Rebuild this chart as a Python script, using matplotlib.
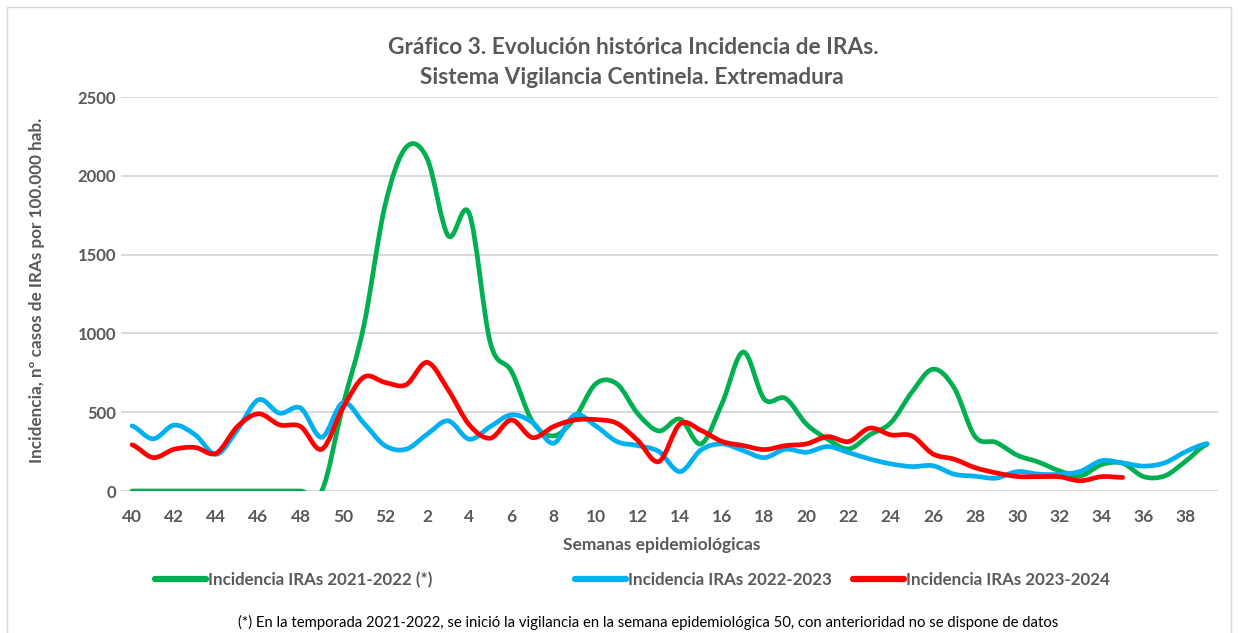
import matplotlib
matplotlib.use('Agg')
import matplotlib.pyplot as plt
from matplotlib.path import Path
from matplotlib.patches import PathPatch, Rectangle
from matplotlib.lines import Line2D

# semanas epidemiologicas (temporada: semana 40 a semana 39)
semanas = list(range(40, 53)) + list(range(1, 40))

# incidencia por 100.000 hab.
ira_2021_2022 = [0, 0, 0, 0, 0, 0, 0, 0, 0, 0,
                 540, 1050, 1810, 2180, 2110, 1620, 1760, 940, 760, 440,
                 350, 462, 680, 680, 490, 381, 456, 299, 558, 882,
                 582, 588, 424, 329, 267, 356, 433, 627, 773, 656,
                 345, 308, 227, 184, 128, 96, 168, 176, 91, 96,
                 190, 296]
ira_2022_2023 = [413, 331, 418, 356, 233, 388, 579, 494, 526, 341,
                 560, 430, 288, 265, 360, 445, 329, 409, 483, 435,
                 303, 483, 413, 314, 288, 250, 123, 261, 299, 256,
                 212, 265, 246, 282, 244, 203, 172, 155, 160, 107,
                 94, 82, 123, 107, 106, 125, 192, 178, 158, 179,
                 250, 301]
ira_2023_2024 = [293, 212, 265, 276, 240, 409, 490, 420, 409, 265,
                 526, 723, 689, 674, 816, 642, 420, 335, 451, 339,
                 409, 451, 453, 430, 320, 187, 426, 384, 314, 288,
                 263, 288, 299, 345, 314, 399, 356, 350, 235, 202,
                 148, 115, 92, 91, 90, 65, 91, 86]

series = [
    (ira_2021_2022, '#00B050', 'Incidencia IRAs 2021-2022 (*)'),
    (ira_2022_2023, '#00B0F0', 'Incidencia IRAs 2022-2023'),
    (ira_2023_2024, '#FF0000', 'Incidencia IRAs 2023-2024'),
]
# posicion (px) del inicio de cada entrada de la leyenda
legend_x = [155, 575, 853]

GRAY = '#595959'
plt.rcParams['font.family'] = ['Lato', 'DejaVu Sans']


def smooth_path(values):
    # linea suavizada tipo Excel: bezier por cada punto (catmull-rom)
    n = len(values)
    verts = [(0, values[0])]
    codes = [Path.MOVETO]
    for i in range(n - 1):
        y_prev = values[i - 1] if i > 0 else values[i]
        y_next = values[i + 2] if i + 2 < n else values[i + 1]
        verts.append((i + 1 / 3, values[i] + (values[i + 1] - y_prev) / 6))
        verts.append((i + 1 - 1 / 3, values[i + 1] - (y_next - values[i]) / 6))
        verts.append((i + 1, values[i + 1]))
        codes += [Path.CURVE4] * 3
    return Path(verts, codes)


fig = plt.figure(figsize=(12.38, 6.33), dpi=100)
ax = fig.add_axes([121.5 / 1238, 1 - 491 / 633, 1096 / 1238, 394 / 633])

for values, color, label in series:
    ax.add_patch(PathPatch(smooth_path(values), fill=False, edgecolor=color,
                           lw=3.4, capstyle='round', joinstyle='round', zorder=3))

ax.set_xlim(-0.5, len(semanas) - 0.5)
ax.set_ylim(0, 2500)
ax.set_yticks(range(0, 2501, 500))
ax.set_xticks(range(0, len(semanas), 2))
ax.set_xticklabels([str(s) for s in semanas[::2]])

ax.yaxis.grid(True, color='#D9D9D9', lw=1.4, zorder=0)
ax.set_axisbelow(True)
for sp in ax.spines.values():
    sp.set_visible(False)
ax.tick_params(axis='both', length=0, colors=GRAY)
ax.tick_params(axis='y', pad=4, labelsize=12)
ax.tick_params(axis='x', pad=13, labelsize=12.5)
for lbl in ax.get_xticklabels() + ax.get_yticklabels():
    lbl.set_fontweight('bold')

ax.set_xlabel('Semanas epidemiológicas', fontsize=12.5, fontweight='bold', color=GRAY)
ax.xaxis.set_label_coords((662 - 121.5) / 1096, -(537 - 491) / 394)
ax.set_ylabel('Incidencia, nº casos de IRAs por 100.000 hab.', fontsize=12.3,
              fontweight='bold', color=GRAY)
ax.yaxis.set_label_coords(-(121.5 - 45) / 1096, 0.51)

fig.text(633 / 1238, 1 - 48 / 633, 'Gráfico 3. Evolución histórica Incidencia de IRAs.',
         ha='center', va='center', fontsize=16.3, fontweight='bold', color=GRAY)
fig.text(632 / 1238, 1 - 77 / 633, 'Sistema Vigilancia Centinela. Extremadura',
         ha='center', va='center', fontsize=16.3, fontweight='bold', color=GRAY)

# una leyenda por serie, como en el original (huecos desiguales)
for (_, color, label), lx in zip(series, legend_x):
    h = Line2D([], [], color=color, lw=4.5, solid_capstyle='round')
    leg = fig.legend([h], [label], loc='center left', bbox_to_anchor=(lx / 1238, 1 - 580 / 633),
                     frameon=False, handlelength=3.0, handletextpad=0.15,
                     borderpad=0, borderaxespad=0, prop={'size': 12.2, 'weight': 'bold'})
    leg.get_texts()[0].set_color(GRAY)

fig.text(648 / 1238, 1 - 622 / 633,
         '(*) En la temporada 2021-2022, se inició la vigilancia en la semana epidemiológica 50, '
         'con anterioridad no se dispone de datos',
         ha='center', va='center', fontsize=10.7, color='#000000')

fig.patches.append(Rectangle((7 / 1238, -0.05), 1224 / 1238, 1.04 - 7 / 633 + 0.01,
                             transform=fig.transFigure, fill=False, edgecolor='#D9D9D9', lw=1))

fig.savefig('out.png', dpi=100)
